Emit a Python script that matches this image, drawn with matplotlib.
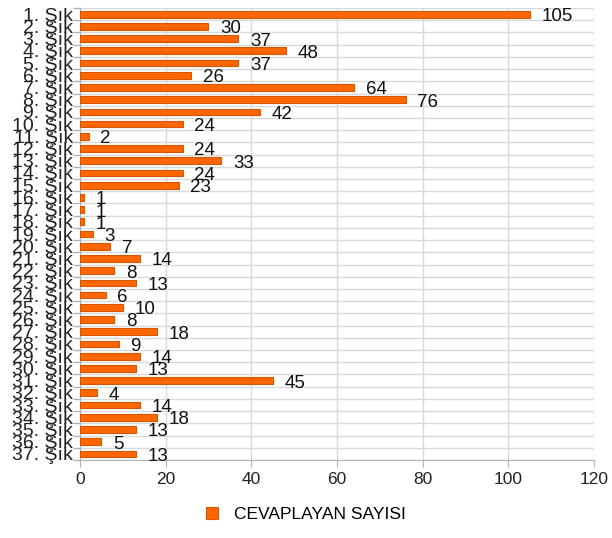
import matplotlib.pyplot as plt
import numpy as np
from matplotlib.ticker import FixedLocator, MultipleLocator

plt.rcParams['font.family'] = ['Liberation Sans', 'DejaVu Sans']

labels = ['%d. Şık' % i for i in range(1, 38)]
values = [105, 30, 37, 48, 37, 26, 64, 76, 42, 24, 2, 24, 33, 24, 23, 1, 1, 1, 3,
          7, 14, 8, 13, 6, 10, 8, 18, 9, 14, 13, 45, 4, 14, 18, 13, 5, 13]
series_name = 'CEVAPLAYAN SAYISI'

fig = plt.figure(figsize=(6.12, 5.38), dpi=100)
ax = fig.add_axes([0.1307, 0.145, 0.8399, 0.840])

y = np.arange(len(labels))
bars = ax.barh(y, values, height=0.55, color='#ff6600', edgecolor='#d65500',
               linewidth=0.8, label=series_name, zorder=3)

# value labels right of each bar
for yi, v in zip(y, values):
    ax.text(v + 2.7, yi + 0.2, str(v), va='center', ha='left', fontsize=13.5,
            color='#111111', zorder=4)

ax.set_xlim(0, 120)
ax.set_ylim(len(labels) - 0.5, -0.5)
ax.xaxis.set_major_locator(MultipleLocator(20))
ax.set_yticks(y)
ax.set_yticklabels(labels, fontsize=14, color='#222222')
ax.yaxis.set_minor_locator(FixedLocator(np.arange(-0.5, len(labels), 1)))
ax.tick_params(axis='y', which='major', length=0, pad=5)
ax.tick_params(axis='y', which='minor', length=5, color='#b3b3b3', width=1)
ax.tick_params(axis='x', length=5, color='#b3b3b3', labelsize=12.5, labelcolor='#222222', pad=4)

ax.grid(axis='x', color='#d9d9d9', linewidth=1, zorder=0)
ax.grid(axis='y', which='minor', color='#d9d9d9', linewidth=1, zorder=0)

for pos in ['top', 'right']:
    ax.spines[pos].set_visible(False)
ax.spines['left'].set_color('#b3b3b3')
ax.spines['bottom'].set_color('#b3b3b3')

fig.legend(handles=[bars], labels=[series_name], loc='lower center',
           bbox_to_anchor=(0.5, 0.0), frameon=False, fontsize=12.5,
           handlelength=0.7, handleheight=0.7, handletextpad=0.9)

fig.savefig('out.png', dpi=100)
